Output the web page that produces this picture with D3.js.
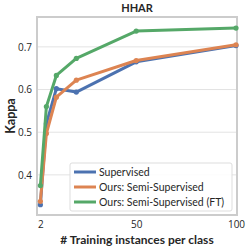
<!DOCTYPE html>
<html>
<head>
<meta charset="utf-8">
<script src="https://cdn.jsdelivr.net/npm/d3@7"></script>
<style>
  body { margin: 0; background: #fff; }
  text { font-family: 'Open Sans', sans-serif; }
</style>
</head>
<body>
<div id="chart"></div>
<script>
const shots = [2, 5, 10, 20, 50, 100]
const supervised = [0.33, 0.52, 0.602, 0.594, 0.665, 0.703]
const semiSupervised = [0.338, 0.497, 0.582, 0.622, 0.668, 0.705]
const semiSupervisedFT = [0.375, 0.56, 0.633, 0.673, 0.737, 0.744]
const seriesNames = ['Supervised', 'Ours: Semi-Supervised', 'Ours: Semi-Supervised (FT)']
const xTicks = [2, 50, 100]
const yTicks = [0.4, 0.5, 0.6, 0.7]

const W = 250
const H = 250
const plot = { left: 37, right: 237, top: 17, bottom: 215 }

const svg = d3
  .select('#chart')
  .append('svg')
  .attr('width', W)
  .attr('height', H)

const x = d3.scaleLinear().domain([0.3, 100.5]).range([plot.left, plot.right])
const y = d3.scaleLinear().domain([0.306, 0.770]).range([plot.bottom, plot.top])

const color = d3
  .scaleOrdinal()
  .domain(seriesNames)
  .range(['#4c72b0', '#dd8452', '#55a868'])

// horizontal grid
svg
  .append('g')
  .selectAll('line')
  .data(yTicks)
  .enter()
  .append('line')
  .attr('x1', plot.left)
  .attr('x2', plot.right)
  .attr('y1', d => y(d))
  .attr('y2', d => y(d))
  .attr('stroke', '#e3e3e3')
  .attr('stroke-width', 1)

// frame
svg
  .append('rect')
  .attr('x', plot.left)
  .attr('y', plot.top)
  .attr('width', plot.right - plot.left)
  .attr('height', plot.bottom - plot.top)
  .attr('fill', 'none')
  .attr('stroke', '#cccccc')
  .attr('stroke-width', 2)

// axes (labels only)
const xAxis = d3.axisBottom(x).tickValues(xTicks).tickSize(0).tickPadding(6)
svg
  .append('g')
  .attr('transform', 'translate(0,' + plot.bottom + ')')
  .call(xAxis)
  .call(g => g.select('.domain').remove())
  .selectAll('text')
  .style('font-family', "'Open Sans', sans-serif")
  .style('font-size', '10px')
  .attr('fill', '#262626')

const yAxis = d3.axisLeft(y).tickValues(yTicks).tickSize(0).tickPadding(5).tickFormat(d3.format('.1f'))
svg
  .append('g')
  .attr('transform', 'translate(' + plot.left + ',0)')
  .call(yAxis)
  .call(g => g.select('.domain').remove())
  .selectAll('text')
  .style('font-family', "'Open Sans', sans-serif")
  .style('font-size', '10px')
  .attr('fill', '#262626')

// lines
const allSeries = [supervised, semiSupervised, semiSupervisedFT]
const line = d3
  .line()
  .x((d, i) => x(shots[i]))
  .y(d => y(d))

allSeries.forEach((values, k) => {
  const g = svg.append('g')
  g.append('path')
    .datum(values)
    .attr('d', line)
    .attr('fill', 'none')
    .attr('stroke', color(seriesNames[k]))
    .attr('stroke-width', 3)
    .attr('stroke-linejoin', 'round')
  g.selectAll('circle')
    .data(values)
    .enter()
    .append('circle')
    .attr('cx', (d, i) => x(shots[i]))
    .attr('cy', d => y(d))
    .attr('r', 2.6)
    .attr('fill', color(seriesNames[k]))
})

// title and axis labels
svg
  .append('text')
  .attr('x', (plot.left + plot.right) / 2)
  .attr('y', 12)
  .attr('text-anchor', 'middle')
  .style('font-family', 'Lato, sans-serif')
  .style('font-size', '11px')
  .style('font-weight', 'bold')
  .attr('fill', '#262626')
  .text('HHAR')

svg
  .append('text')
  .attr('x', (plot.left + plot.right) / 2)
  .attr('y', 244)
  .attr('text-anchor', 'middle')
  .style('font-family', 'Lato, sans-serif')
  .style('font-size', '12px')
  .style('font-weight', 'bold')
  .attr('fill', '#262626')
  .text('# Training instances per class')

svg
  .append('text')
  .attr('transform', 'translate(15,' + (plot.top + plot.bottom) / 2 + ') rotate(-90)')
  .attr('text-anchor', 'middle')
  .style('font-family', 'Lato, sans-serif')
  .style('font-size', '12.5px')
  .style('font-weight', 'bold')
  .attr('fill', '#262626')
  .text('Kappa')

// legend
const legend = svg.append('g')
legend
  .append('rect')
  .attr('x', 70)
  .attr('y', 163)
  .attr('width', 162)
  .attr('height', 48)
  .attr('rx', 2)
  .attr('fill', 'rgba(255,255,255,0.85)')
  .attr('stroke', '#dddddd')
  .attr('stroke-width', 1)

seriesNames.forEach((name, i) => {
  const yy = 172 + i * 15
  legend
    .append('line')
    .attr('x1', 74)
    .attr('x2', 96)
    .attr('y1', yy)
    .attr('y2', yy)
    .attr('stroke', color(name))
    .attr('stroke-width', 3)
  legend
    .append('text')
    .attr('x', 99)
    .attr('y', yy + 3.5)
    .style('font-family', 'Lato, sans-serif')
    .style('font-size', '10.5px')
    .attr('fill', '#262626')
    .text(name)
})
</script>
</body>
</html>
